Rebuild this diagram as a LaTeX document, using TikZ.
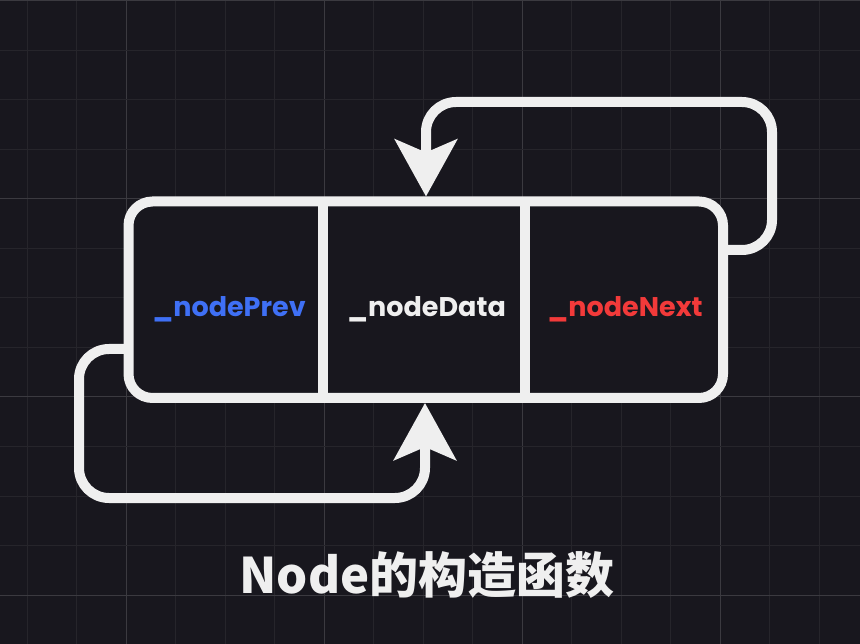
\documentclass[tikz,border=0pt]{standalone}
\usepackage{fontspec}
\usetikzlibrary{arrows.meta}
\newfontfamily\cjkfont{Noto Sans CJK SC}
\newfontfamily\labelfont{Poppins}
\definecolor{bg}{HTML}{18171E}
\definecolor{gridminor}{HTML}{26252B}
\definecolor{gridmajor}{HTML}{3B3A40}
\definecolor{fg}{HTML}{EFEFEF}
\definecolor{prevblue}{HTML}{3F70F5}
\definecolor{nextred}{HTML}{F23A3A}
\tikzset{
  cellbox/.style={draw=fg, line width=10pt, rounded corners=24pt, inner sep=0pt, outer sep=0pt},
  divider/.style={draw=fg, line width=10pt},
  conn/.style={draw=fg, line width=10pt, rounded corners=30pt,
    -{Stealth[length=57pt,width=62pt,inset=13pt]}},
  lbl/.style={font=\labelfont\bfseries\fontsize{27}{27}\selectfont, anchor=base},
  ttl/.style={font=\cjkfont\bfseries\fontsize{49}{49}\selectfont, text=fg, anchor=base}
}
\begin{document}
\begin{tikzpicture}[x=1pt,y=-1pt]
\useasboundingbox (0,0) rectangle (860,644);
\fill[bg] (0,0) rectangle (860,644);
% grid
\foreach \k in {0,...,17}{
  \pgfmathsetmacro{\gx}{27+49.5*\k}
  \pgfmathtruncatemacro{\m}{mod(\k+2,4)}
  \ifnum\m=0 \draw[gridmajor, line width=1pt] (\gx,0) -- (\gx,644);
  \else \draw[gridminor, line width=1pt] (\gx,0) -- (\gx,644); \fi
}
\foreach \k in {0,...,13}{
  \pgfmathsetmacro{\gy}{1+49.5*\k}
  \pgfmathtruncatemacro{\m}{mod(\k,4)}
  \ifnum\m=0 \draw[gridmajor, line width=1pt] (0,\gy) -- (860,\gy);
  \else \draw[gridminor, line width=1pt] (0,\gy) -- (860,\gy); \fi
}
% the node box
\node[cellbox, fill=bg, minimum width=594.5pt, minimum height=196.5pt, anchor=north west] (box) at (128.5,201.5) {};
\coordinate (d1) at (323,300);
\coordinate (d2) at (525,300);
\draw[divider] (d1 |- box.north) -- (d1 |- box.south);
\draw[divider] (d2 |- box.north) -- ([yshift=-4pt]d2 |- box.south);
% labels
\node[lbl, text=prevblue] (prev) at (229,317) {\_nodePrev};
\node[lbl, text=fg] (data) at (426.5,317) {\_nodeData};
\node[lbl, text=nextred] (next) at (625,317) {\_nodeNext};
% loops
\coordinate (a1) at (772,250);
\coordinate (a2) at (772,102);
\coordinate (a3) at (426,102);
\coordinate (t1) at (426,196.5);
\draw[conn] (box.east |- a1) -- (a1) -- (a2) -- (a3) -- (t1);
\coordinate (b1) at (79,349);
\coordinate (b2) at (79,498);
\coordinate (b3) at (425,498);
\coordinate (t2) at (425,403);
\draw[conn] (box.west |- b1) -- (b1) -- (b2) -- (b3) -- (t2);
% title
\node[ttl] (title) at (427,593) {Node的构造函数};
\end{tikzpicture}
\end{document}
